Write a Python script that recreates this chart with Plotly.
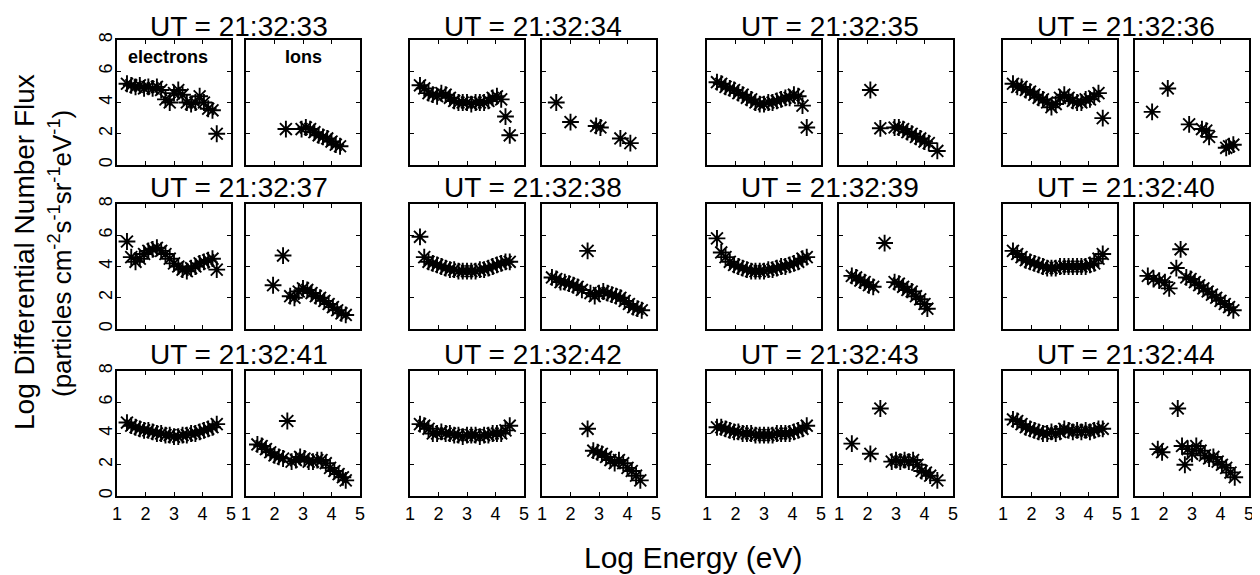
import plotly.graph_objects as go

# ---------------- data ----------------
times = ["21:32:33", "21:32:34", "21:32:35", "21:32:36",
         "21:32:37", "21:32:38", "21:32:39", "21:32:40",
         "21:32:41", "21:32:42", "21:32:43", "21:32:44"]

# electron energy channels (log eV)
e_energy = [1.35, 1.5, 1.65, 1.8, 1.95, 2.1, 2.25, 2.4, 2.55, 2.7, 2.85,
            3.0, 3.15, 3.3, 3.45, 3.6, 3.75, 3.9, 4.05, 4.2, 4.35, 4.5]

# electron log flux per time
e_33 = [5.2, 5.1, 5.0, 5.1, 4.9, 5.0, 4.9, 5.0, 4.8, 4.2, 4.0, 4.6, 4.8, 4.5, 4.0, 3.9, 4.0, 4.4, 4.0, 3.6, 3.5, 2.0]
e_34 = [5.1, 4.9, 4.6, 4.5, 4.4, 4.6, 4.5, 4.3, 4.1, 4.0, 4.0, 4.0, 3.9, 4.0, 4.0, 4.0, 4.1, 4.3, 4.4, 4.2, 3.1, 1.9]
e_35 = [5.3, 5.2, 5.0, 4.9, 4.8, 4.6, 4.5, 4.3, 4.2, 4.0, 3.9, 3.9, 4.0, 4.0, 4.1, 4.2, 4.3, 4.3, 4.5, 4.4, 3.8, 2.4]
e_36 = [5.2, 5.0, 5.0, 4.8, 4.7, 4.5, 4.3, 4.2, 4.0, 3.7, 3.9, 4.3, 4.5, 4.3, 4.1, 4.0, 4.0, 4.2, 4.2, 4.4, 4.6, 3.0]
e_37 = [5.6, 4.6, 4.3, 4.5, 4.8, 5.0, 5.1, 5.2, 5.0, 4.8, 4.5, 4.2, 4.0, 3.8, 3.7, 3.9, 4.0, 4.2, 4.3, 4.4, 4.5, 3.8]
e_38 = [5.9, 4.6, 4.3, 4.2, 4.1, 4.0, 3.9, 3.8, 3.8, 3.7, 3.7, 3.7, 3.7, 3.7, 3.8, 3.8, 3.9, 4.0, 4.1, 4.2, 4.3, 4.3]
e_39 = [5.8, 4.9, 4.6, 4.3, 4.1, 4.0, 3.9, 3.8, 3.7, 3.7, 3.7, 3.7, 3.8, 3.8, 3.9, 4.0, 4.0, 4.1, 4.2, 4.3, 4.5, 4.6]
e_40 = [5.0, 4.8, 4.6, 4.4, 4.3, 4.2, 4.1, 4.0, 3.9, 3.9, 3.9, 4.0, 4.0, 4.0, 4.0, 4.0, 4.0, 4.0, 4.1, 4.2, 4.5, 4.8]
e_41 = [4.7, 4.5, 4.4, 4.3, 4.2, 4.2, 4.1, 4.0, 4.0, 3.9, 3.9, 3.8, 3.8, 3.9, 3.9, 4.0, 4.0, 4.1, 4.2, 4.3, 4.4, 4.6]
e_42 = [4.6, 4.5, 4.3, 4.0, 4.0, 4.1, 4.0, 4.0, 3.9, 3.9, 3.8, 3.9, 3.9, 3.9, 3.8, 3.9, 3.9, 4.0, 4.0, 4.0, 4.2, 4.5]
e_43 = [4.4, 4.4, 4.3, 4.2, 4.1, 4.1, 4.0, 4.0, 4.0, 3.9, 3.9, 3.9, 3.9, 3.9, 4.0, 4.0, 4.0, 4.0, 4.1, 4.2, 4.3, 4.5]
e_44 = [4.9, 4.8, 4.6, 4.4, 4.3, 4.2, 4.1, 4.0, 4.0, 4.1, 4.0, 4.1, 4.3, 4.2, 4.1, 4.2, 4.1, 4.2, 4.1, 4.2, 4.3, 4.3]

# ion log energy / log flux per time
i_x_33 = [2.4, 2.95, 3.1, 3.25, 3.4, 3.55, 3.7, 3.85, 4.0, 4.15, 4.3]
i_y_33 = [2.3, 2.3, 2.4, 2.3, 2.1, 1.9, 1.8, 1.7, 1.5, 1.3, 1.2]
i_x_34 = [1.5, 2.0, 2.9, 3.05, 3.75, 4.1]
i_y_34 = [4.0, 2.75, 2.5, 2.4, 1.7, 1.4]
i_x_35 = [2.1, 2.45, 2.95, 3.1, 3.25, 3.4, 3.55, 3.7, 3.85, 4.0, 4.15, 4.45]
i_y_35 = [4.8, 2.35, 2.4, 2.4, 2.3, 2.1, 2.0, 1.8, 1.7, 1.5, 1.4, 0.9]
i_x_36 = [1.6, 2.15, 2.9, 3.35, 3.5, 3.6, 4.2, 4.3, 4.45]
i_y_36 = [3.4, 4.9, 2.6, 2.3, 2.2, 1.8, 1.1, 1.2, 1.3]
i_x_37 = [1.95, 2.3, 2.55, 2.7, 2.85, 3.0, 3.15, 3.3, 3.45, 3.6, 3.75, 3.9, 4.05, 4.2, 4.35, 4.5]
i_y_37 = [2.8, 4.7, 2.1, 2.0, 2.4, 2.6, 2.5, 2.3, 2.1, 2.0, 1.8, 1.6, 1.4, 1.2, 1.0, 0.9]
i_x_38 = [1.35, 1.5, 1.65, 1.8, 1.95, 2.1, 2.25, 2.4, 2.6, 2.7, 2.85, 3.0, 3.15, 3.3, 3.45, 3.6, 3.75, 3.9, 4.05, 4.2, 4.35, 4.5]
i_y_38 = [3.3, 3.2, 3.0, 3.0, 2.9, 2.8, 2.7, 2.5, 5.0, 2.3, 2.1, 2.3, 2.4, 2.3, 2.2, 2.1, 2.0, 1.8, 1.6, 1.4, 1.3, 1.2]
i_x_39 = [1.45, 1.6, 1.75, 1.9, 2.05, 2.2, 2.6, 2.95, 3.1, 3.25, 3.4, 3.55, 3.7, 3.85, 4.0, 4.1]
i_y_39 = [3.4, 3.3, 3.1, 3.0, 2.8, 2.7, 5.5, 3.0, 2.9, 2.7, 2.5, 2.4, 2.1, 1.9, 1.6, 1.3]
i_x_40 = [1.45, 1.65, 1.85, 2.05, 2.2, 2.45, 2.6, 2.8, 2.95, 3.1, 3.25, 3.4, 3.55, 3.7, 3.85, 4.0, 4.15, 4.3, 4.45]
i_y_40 = [3.4, 3.2, 3.1, 3.0, 2.6, 3.9, 5.1, 3.3, 3.2, 3.0, 2.8, 2.6, 2.4, 2.2, 2.0, 1.8, 1.6, 1.4, 1.2]
i_x_41 = [1.4, 1.55, 1.7, 1.85, 2.0, 2.15, 2.3, 2.45, 2.6, 2.75, 2.9, 3.05, 3.2, 3.35, 3.5, 3.65, 3.8, 3.95, 4.1, 4.25, 4.4, 4.5]
i_y_41 = [3.3, 3.2, 3.0, 2.8, 2.6, 2.5, 2.4, 4.8, 2.2, 2.3, 2.5, 2.4, 2.2, 2.2, 2.3, 2.3, 2.1, 1.8, 1.6, 1.4, 1.2, 1.0]
i_x_42 = [2.6, 2.8, 2.95, 3.1, 3.25, 3.4, 3.55, 3.7, 3.85, 4.0, 4.15, 4.3, 4.45]
i_y_42 = [4.3, 2.9, 2.8, 2.7, 2.5, 2.3, 2.1, 2.3, 2.1, 1.8, 1.6, 1.3, 1.0]
i_x_43 = [1.45, 2.1, 2.45, 2.85, 3.0, 3.15, 3.3, 3.45, 3.6, 3.75, 3.9, 4.05, 4.2, 4.45]
i_y_43 = [3.35, 2.7, 5.6, 2.2, 2.3, 2.2, 2.3, 2.2, 2.3, 2.0, 1.6, 1.5, 1.3, 1.0]
i_x_44 = [1.8, 1.95, 2.5, 2.65, 2.75, 2.85, 3.0, 3.15, 3.3, 3.45, 3.6, 3.75, 3.9, 4.05, 4.2, 4.35, 4.5]
i_y_44 = [3.0, 2.8, 5.6, 3.2, 2.0, 3.0, 2.7, 3.2, 2.9, 2.6, 2.4, 2.5, 2.2, 2.0, 1.8, 1.5, 1.2]

x_ticks = [1, 2, 3, 4, 5]
y_ticks = [0, 2, 4, 6, 8]

e_series = [e_33, e_34, e_35, e_36, e_37, e_38, e_39, e_40, e_41, e_42, e_43, e_44]
i_x_series = [i_x_33, i_x_34, i_x_35, i_x_36, i_x_37, i_x_38, i_x_39, i_x_40, i_x_41, i_x_42, i_x_43, i_x_44]
i_y_series = [i_y_33, i_y_34, i_y_35, i_y_36, i_y_37, i_y_38, i_y_39, i_y_40, i_y_41, i_y_42, i_y_43, i_y_44]

# ---------------- layout geometry (pixels of the target picture) ----------------
OFF = 8                      # default page margin of the html body
W, H = 1260 - OFF, 575 - OFF  # figure size so that it fits the window


def px(x):
    return (x - OFF) / W


def py(y):
    return 1 - (y - OFF) / H


e_left = [117, 410, 707, 1003]
i_left = [246, 542, 839, 1135]
pw = 114
row_top = [40, 204, 371]
title_gap = [14, 17, 17]
ph = 125

FONT = "Liberation Sans, Arial, Helvetica, sans-serif"

fig = go.Figure()
layout = dict(
    width=W, height=H, margin=dict(l=0, r=0, t=0, b=0, pad=0),
    paper_bgcolor="white", plot_bgcolor="white", showlegend=False,
    font=dict(family=FONT, color="black"),
)
annotations = []

marker = dict(symbol="asterisk-open", size=14, color="black",
              line=dict(color="black", width=1.9))


def axis_common():
    return dict(showgrid=False, zeroline=False, showline=True, linecolor="black",
                linewidth=1.6, mirror="ticks", ticks="inside", ticklen=4,
                tickcolor="black", tickwidth=1, automargin=False)


def label(text, x, y, size, angle=0):
    return dict(text=text, x=px(x), y=py(y), xref="paper", yref="paper",
                xanchor="center", yanchor="middle", showarrow=False,
                textangle=angle, font=dict(size=size, family=FONT, color="black"))


k = 0
for p in range(12):
    r, c = divmod(p, 4)
    top = row_top[r]
    for side in ("e", "i"):
        k += 1
        left = e_left[c] if side == "e" else i_left[c]
        xa = "xaxis" if k == 1 else f"xaxis{k}"
        ya = "yaxis" if k == 1 else f"yaxis{k}"
        xref = "x" if k == 1 else f"x{k}"
        yref = "y" if k == 1 else f"y{k}"
        xax = axis_common()
        xax.update(domain=[px(left), px(left + pw)], anchor=yref, range=[1, 5],
                   tickvals=x_ticks, showticklabels=(r == 2),
                   tickfont=dict(size=18, family=FONT), ticklabelstandoff=1)
        yax = axis_common()
        yax.update(domain=[py(top + ph), py(top)], anchor=xref, range=[0, 8],
                   tickvals=y_ticks, showticklabels=(c == 0 and side == "e"),
                   tickangle=-90, tickfont=dict(size=18, family=FONT),
                   ticklabelstandoff=-4)
        layout[xa] = xax
        layout[ya] = yax
        if side == "e":
            fig.add_trace(go.Scatter(x=e_energy, y=e_series[p], mode="markers",
                                     marker=marker, xaxis=xref, yaxis=yref))
        else:
            fig.add_trace(go.Scatter(x=i_x_series[p], y=i_y_series[p], mode="markers",
                                     marker=marker, xaxis=xref, yaxis=yref))
    # panel pair title
    cx = (e_left[c] + i_left[c] + pw) / 2
    annotations.append(label(f"UT = {times[p]}", cx, top - title_gap[r], 28))

# species labels in first pair
annotations.append(label("<b>electrons</b>", 168, 57, 18))
annotations.append(label("<b>Ions</b>", 303, 57, 18))

# axis titles
annotations.append(label("Log Differential Number Flux", 24, 252, 28, -90))
annotations.append(label("(particles cm<sup>-2</sup>s<sup>-1</sup>sr<sup>-1</sup>eV<sup>-1</sup>)",
                         60, 254, 26, -90))
annotations.append(label("Log Energy (eV)", 693, 557, 30))

layout["annotations"] = annotations
fig.update_layout(**layout)
fig.write_html("out.html")
